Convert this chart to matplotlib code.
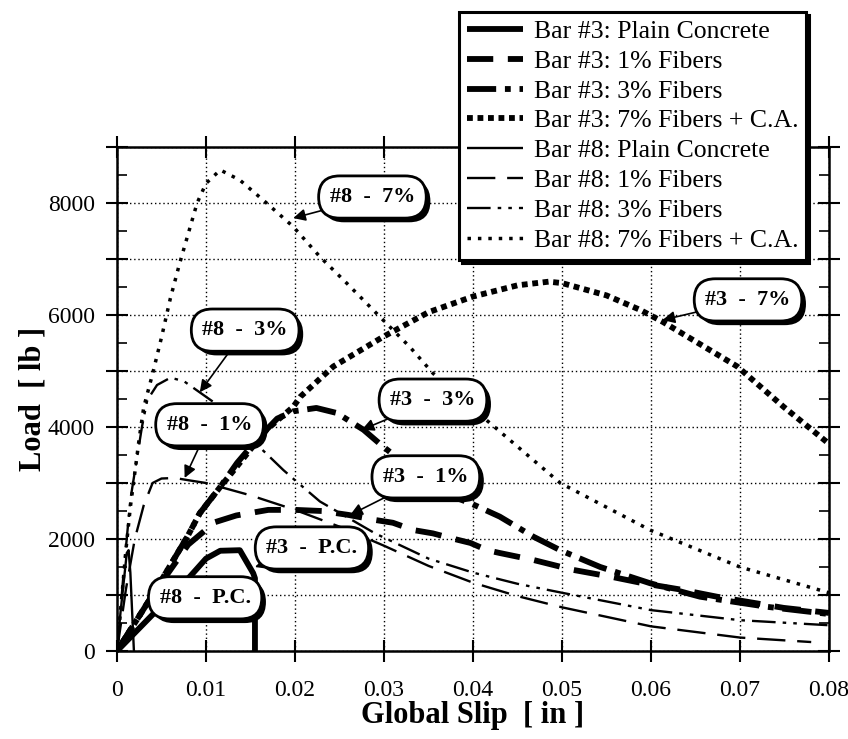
import matplotlib
matplotlib.use("Agg")
import matplotlib.pyplot as plt
import matplotlib.patheffects as pe
from matplotlib.ticker import MultipleLocator, FuncFormatter

plt.rcParams['font.family'] = ['Liberation Serif', 'DejaVu Serif']

# ---------------- data ----------------
b3_pc_x = [0, 0.004, 0.0082, 0.010, 0.0116, 0.0138, 0.0153, 0.0155, 0.0155]
b3_pc_y = [0, 650, 1330, 1650, 1790, 1800, 1390, 1300, 0]

b3_1_x = [0, 0.004, 0.008, 0.011, 0.0134, 0.017, 0.020, 0.023, 0.026, 0.029, 0.031, 0.0333,
          0.0355, 0.0374, 0.0397, 0.0416, 0.043, 0.0468, 0.0512, 0.0557, 0.0591, 0.0636,
          0.0674, 0.0749, 0.080]
b3_1_y = [0, 1000, 1900, 2300, 2420, 2520, 2520, 2500, 2430, 2340, 2290, 2160,
          2100, 2020, 1930, 1800, 1750, 1625, 1450, 1320, 1210, 1090,
          970, 770, 680]

b3_3_x = [0, 0.004, 0.0079, 0.0093, 0.0116, 0.0135, 0.015, 0.016, 0.018, 0.0198, 0.0224,
          0.0247, 0.0277, 0.0299, 0.0315, 0.034, 0.037, 0.0397, 0.043, 0.0468, 0.0498,
          0.0543, 0.0599, 0.0655, 0.073, 0.080]
b3_3_y = [0, 1000, 2040, 2460, 2930, 3360, 3640, 3820, 4150, 4280, 4340,
          4250, 3950, 3650, 3450, 3100, 2800, 2640, 2400, 2040, 1800,
          1500, 1210, 970, 790, 660]

b3_7_x = [0, 0.004, 0.0079, 0.0093, 0.0116, 0.0135, 0.015, 0.0168, 0.0198, 0.0206, 0.0243,
          0.0299, 0.035, 0.040, 0.045, 0.0485, 0.050, 0.055, 0.0588, 0.0613, 0.0697,
          0.0749, 0.080]
b3_7_y = [0, 1000, 2040, 2460, 2930, 3300, 3600, 3950, 4360, 4540, 5080,
          5610, 6050, 6330, 6530, 6595, 6570, 6350, 6090, 5880, 5080,
          4360, 3700]

b8_pc_x = [0, 0.0004, 0.0008, 0.0011, 0.0013, 0.0015, 0.0017, 0.0019]
b8_pc_y = [0, 700, 1300, 1750, 1800, 1400, 700, 0]

b8_1_x = [0, 0.001, 0.002, 0.003, 0.004, 0.005, 0.0065, 0.008, 0.010, 0.015, 0.020,
          0.025, 0.030, 0.035, 0.040, 0.045, 0.050, 0.060, 0.070, 0.078]
b8_1_y = [0, 1100, 2000, 2600, 3000, 3080, 3090, 3050, 3000, 2780, 2520,
          2220, 1880, 1520, 1220, 980, 780, 440, 240, 160]

b8_3_x = [0, 0.0008, 0.0015, 0.0028, 0.0034, 0.0045, 0.006, 0.0075, 0.0108, 0.014,
          0.0187, 0.020, 0.0228, 0.029, 0.035, 0.040, 0.045, 0.050, 0.060, 0.070, 0.080]
b8_3_y = [0, 1500, 2700, 4000, 4480, 4750, 4880, 4820, 4450, 3950,
          3230, 3050, 2670, 2100, 1650, 1400, 1200, 1040, 730, 550, 460]

b8_7_x = [0, 0.0005, 0.001, 0.0015, 0.002, 0.0025, 0.003, 0.004, 0.005, 0.006, 0.007,
          0.008, 0.009, 0.010, 0.0116, 0.0138, 0.0168, 0.0198, 0.0228, 0.0258, 0.0299,
          0.0329, 0.0355, 0.0415, 0.0498, 0.0599, 0.070, 0.080]
b8_7_y = [0, 900, 1800, 2570, 3180, 3800, 4350, 4950, 5600, 6300, 6900,
          7450, 8000, 8350, 8590, 8410, 8000, 7577, 7040, 6570, 5910,
          5430, 4960, 4125, 3000, 2160, 1500, 1040]

labels = ["Bar #3: Plain Concrete", "Bar #3: 1% Fibers", "Bar #3: 3% Fibers",
          "Bar #3: 7% Fibers + C.A.", "Bar #8: Plain Concrete", "Bar #8: 1% Fibers",
          "Bar #8: 3% Fibers", "Bar #8: 7% Fibers + C.A."]

ann_text = ["#8  -  7%", "#3  -  7%", "#8  -  3%", "#3  -  3%", "#8  -  1%", "#3  -  1%",
            "#3  -  P.C.", "#8  -  P.C."]
ann_box = [(0.0287, 8107), (0.0709, 6270), (0.0144, 5730), (0.0355, 4480),
           (0.0104, 4040), (0.0347, 3110), (0.0219, 1840), (0.0099, 950)]
ann_tip = [(0.0198, 7730), (0.0613, 5910), (0.0093, 4620), (0.0275, 3950),
           (0.0076, 3090), (0.0262, 2430), (0.0155, 1500), None]

x_ticks_labels = ["0", "0.01", "0.02", "0.03", "0.04", "0.05", "0.06", "0.07", "0.08"]

# ---------------- figure ----------------
fig = plt.figure(figsize=(8.48, 7.39), dpi=100)
ax = fig.add_axes([117/848, 1-651/739, (829-117)/848, (651-147)/739])

thick = 4.2
thin = 1.7
series = [
    (b3_pc_x, b3_pc_y, dict(lw=thick, ls='-')),
    (b3_1_x, b3_1_y, dict(lw=thick, ls=(0, (4.5, 2.5)))),
    (b3_3_x, b3_3_y, dict(lw=thick, ls=(0, (5, 1.5, 1, 1.5)))),
    (b3_7_x, b3_7_y, dict(lw=thick, ls=(0, (1.0, 0.8)))),
    (b8_pc_x, b8_pc_y, dict(lw=thin, ls='-')),
    (b8_1_x, b8_1_y, dict(lw=thin, ls=(0, (12, 5)))),
    (b8_3_x, b8_3_y, dict(lw=thin, ls=(0, (10, 3, 1.5, 3, 1.5, 3)))),
    (b8_7_x, b8_7_y, dict(lw=2.5, ls=(0, (1.0, 2.0)))),
]
handles = []
for (xs, ys, st), lab in zip(series, labels):
    h, = ax.plot(xs, ys, color='black', label=lab, solid_capstyle='butt',
                 dash_capstyle='butt', zorder=3, **st)
    handles.append(h)

ax.set_xlim(0, 0.08)
ax.set_ylim(0, 9000)
ax.yaxis.set_major_locator(MultipleLocator(1000))
ax.yaxis.set_minor_locator(MultipleLocator(500))
ax.set_xticks([i * 0.01 for i in range(9)])
ax.set_xticklabels(x_ticks_labels)
ax.yaxis.set_major_formatter(FuncFormatter(
    lambda v, p: f"{int(round(v))}" if int(round(v)) % 2000 == 0 and v < 8500 else ""))
ax.tick_params(which='major', direction='inout', length=16, width=1.5, top=True, right=True,
               labelsize=17, pad=8)
ax.tick_params(axis='x', which='major', pad=13)
ax.tick_params(which='minor', direction='in', length=7, width=1.2, left=True, right=True)
ax.grid(True, which='major', color='black', ls=(0, (1, 2)), lw=1.0)
for s in ax.spines.values():
    s.set_linewidth(1.8)

ax.set_xlabel("Global Slip  [ in ]", fontsize=22, fontweight='bold', labelpad=0)
ax.set_ylabel("Load  [ lb ]", fontsize=22, fontweight='bold', labelpad=0)

# annotations with shadowed rounded boxes
shadow = [pe.SimplePatchShadow(offset=(3, -3), shadow_rgbFace='black', alpha=1.0), pe.Normal()]
bbox_style = dict(boxstyle='round,pad=0.5,rounding_size=0.95', fc='white', ec='black', lw=2)
for txt, box, tip in zip(ann_text, ann_box, ann_tip):
    if tip is not None:
        t = ax.annotate(txt, xy=tip, xytext=box, ha='center', va='center',
                        fontsize=16, fontweight='bold', zorder=6, bbox=bbox_style,
                        arrowprops=dict(arrowstyle='-|>', color='black', lw=1.2,
                                        mutation_scale=18, shrinkA=0, shrinkB=0))
    else:
        t = ax.text(box[0], box[1], txt, ha='center', va='center',
                    fontsize=16, fontweight='bold', zorder=6, bbox=bbox_style)
    t.get_bbox_patch().set_path_effects(shadow)

leg = fig.legend(handles=handles, loc='upper right', bbox_to_anchor=(806/848, 1-12/739),
                 fontsize=18.5, frameon=True, fancybox=False, shadow={'color': 'black', 'alpha': 1},
                 handlelength=2.2, handletextpad=0.4, labelspacing=0.27, borderpad=0.3,
                 borderaxespad=0)
leg.get_frame().set_edgecolor('black')
leg.get_frame().set_linewidth(2.2)
leg.get_frame().set_alpha(1)
leg.set_zorder(10)

fig.savefig("out.png", dpi=100)
